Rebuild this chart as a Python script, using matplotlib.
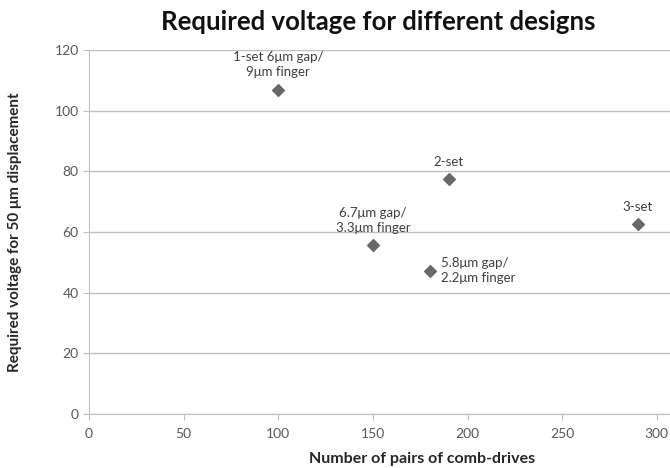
import matplotlib
matplotlib.use("Agg")
import matplotlib.pyplot as plt

plt.rcParams['font.family'] = ['Lato', 'DejaVu Sans']

# comb-drive designs
pairs = [100, 190, 150, 180, 290]
voltage = [107, 77.5, 55.7, 47.3, 62.7]
labels = ['1-set 6\u03bcm gap/\n9\u03bcm finger', '2-set',
          '6.7\u03bcm gap/\n3.3\u03bcm finger', '5.8\u03bcm gap/\n2.2\u03bcm finger',
          '3-set']
# label placement: (dx, dy) in points, ha
offsets = [((0, 8), 'center', 'bottom'), ((0, 8), 'center', 'bottom'),
           ((0, 8), 'center', 'bottom'), ((8, 0), 'left', 'center'),
           ((0, 8), 'center', 'bottom')]

fig = plt.figure(figsize=(6.7, 4.68), dpi=100)
ax = fig.add_axes([0.133, 0.115, 0.867, 0.778])

ax.scatter(pairs, voltage, marker='D', s=36, color='#686868', zorder=3)
for x, y, t, (off, ha, va) in zip(pairs, voltage, labels, offsets):
    ax.annotate(t, (x, y), xytext=off, textcoords='offset points',
                ha=ha, va=va, fontsize=9.5, color='#404040', linespacing=1.35)

ax.set_xlim(0, 307)
ax.set_ylim(0, 120)
ax.set_xticks(range(0, 301, 50))
ax.set_yticks(range(0, 121, 20))
ax.yaxis.grid(True, color='#bfbfbf', lw=1)
ax.set_axisbelow(True)
for s in ['top', 'right']:
    ax.spines[s].set_visible(False)
for s in ['left', 'bottom']:
    ax.spines[s].set_color('#bfbfbf')
ax.tick_params(colors='#bfbfbf', labelcolor='#595959', labelsize=10, length=4)
ax.tick_params(axis='x', pad=6)

ax.set_xlabel('Number of pairs of comb-drives', fontsize=11.5, fontweight='bold',
              color='#262626')
ax.xaxis.set_label_coords(0.573, -0.105)
ax.set_ylabel('Required voltage for 50 \u03bcm displacement', fontsize=11,
              fontweight='bold', color='#262626')
ax.yaxis.set_label_coords(-0.115, 0.5)
fig.text(0.565, 0.952, 'Required voltage for different designs', ha='center',
         va='center', fontsize=18.5, fontweight='bold', color='#111111')

fig.savefig('out.png', dpi=100)
